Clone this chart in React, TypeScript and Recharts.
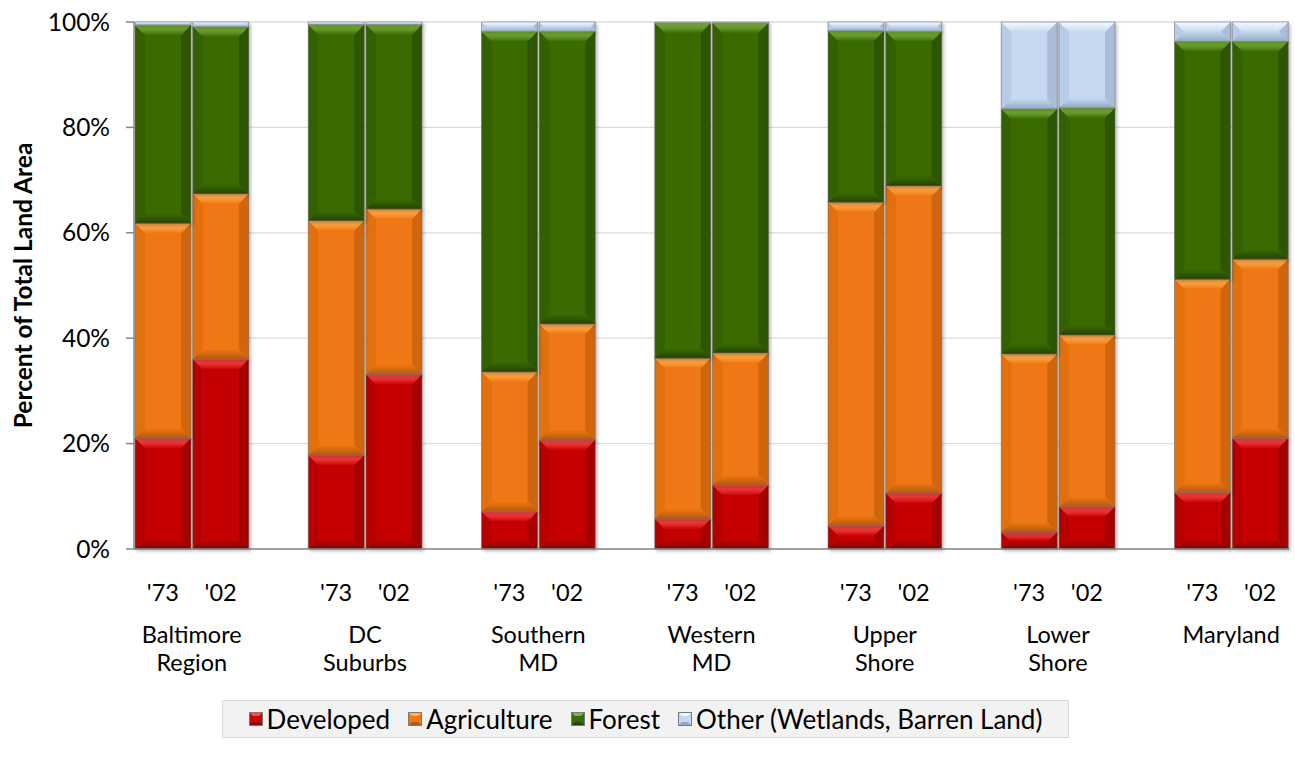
import React from "react";
import { BarChart, Bar, XAxis, YAxis, CartesianGrid } from "recharts";

const REGIONS = [
  "Baltimore Region",
  "DC Suburbs",
  "Southern MD",
  "Western MD",
  "Upper Shore",
  "Lower Shore",
  "Maryland",
];
const YEARS = ["'73", "'02"];

// share of land area (%), one value per bar: each region '73 then '02
const DEVELOPED = [21.0, 36.0, 17.8, 33.1, 7.1, 20.7, 5.7, 12.1, 4.4, 10.6, 3.2, 8.0, 10.7, 21.0];
const AGRICULTURE = [40.8, 31.4, 44.5, 31.4, 26.5, 22.0, 30.5, 25.1, 61.4, 58.3, 33.8, 32.6, 40.5, 34.0];
const FOREST = [37.6, 31.7, 37.2, 35.0, 64.6, 55.5, 63.6, 62.6, 32.5, 29.3, 46.5, 43.1, 45.1, 41.3];
const OTHER = [0.6, 0.9, 0.5, 0.5, 1.8, 1.8, 0.2, 0.2, 1.7, 1.8, 16.5, 16.3, 3.7, 3.7];

const Y_TICKS = [0, 20, 40, 60, 80, 100];

const FONT = "Lato, 'Noto Sans', sans-serif";
const W = 1295;
const H = 780;
const AXIS_W = 134;
const RIGHT = 6;

type Series = {
  key: string;
  name: string;
  values: number[];
  base: string;
  light: string;
  dark: string;
};

const SERIES: Series[] = [
  { key: "developed", name: "Developed", values: DEVELOPED, base: "#C60404", light: "#FF4B4B", dark: "#8A0000" },
  { key: "agriculture", name: "Agriculture", values: AGRICULTURE, base: "#F07712", light: "#FFB457", dark: "#B5580B" },
  { key: "forest", name: "Forest", values: FOREST, base: "#3A6B06", light: "#7FB83E", dark: "#254502" },
  { key: "other", name: "Other (Wetlands, Barren Land)", values: OTHER, base: "#C5D8F0", light: "#F0F6FD", dark: "#91A8C6" },
];

type Row = { id: string; year: string; region: string; first: boolean; [k: string]: any };

// two bars per region, with an empty slot between regions
const rows: Row[] = [];
REGIONS.forEach((region, r) => {
  if (r > 0) rows.push({ id: `gap${r}`, year: "", region: "", first: false });
  YEARS.forEach((year, y) => {
    const row: Row = { id: `${r}-${y}`, year, region, first: y === 0 };
    SERIES.forEach((s) => {
      row[s.key] = s.values[r * 2 + y];
    });
    rows.push(row);
  });
});

const SLOT = (W - AXIS_W - RIGHT) / rows.length;

function BevelBar(props: any) {
  const { x, y, width, height, s } = props;
  if (!height || height <= 0) return null;
  const b = Math.min(10, height / 2, width / 2);
  const x2 = x + width;
  const y2 = y + height;
  return (
    <g filter="url(#barShadow)">
      <rect x={x} y={y} width={width} height={height} fill={s.base} />
      <polygon
        points={`${x},${y} ${x + b},${y + b} ${x + b},${y2 - b} ${x},${y2}`}
        fill={s.dark}
        opacity={0.25}
      />
      <polygon
        points={`${x2},${y} ${x2 - b},${y + b} ${x2 - b},${y2 - b} ${x2},${y2}`}
        fill={s.dark}
        opacity={0.55}
      />
      <polygon
        points={`${x},${y} ${x2},${y} ${x2 - b},${y + b} ${x + b},${y + b}`}
        fill={`url(#top-${s.key})`}
      />
      <polygon
        points={`${x},${y2} ${x2},${y2} ${x2 - b},${y2 - b} ${x + b},${y2 - b}`}
        fill={`url(#bot-${s.key})`}
      />
      <rect
        x={x}
        y={y}
        width={width}
        height={height}
        fill="none"
        stroke="#6f6f6f"
        strokeOpacity={0.55}
        strokeWidth={1}
      />
    </g>
  );
}

function XTick(props: any) {
  const { x, y, index } = props;
  const row = rows[index];
  if (!row || !row.year) return null;
  const lines = row.region.split(" ");
  const cx = x + SLOT / 2;
  return (
    <g fontFamily={FONT} fontSize={23.5} fill="#000">
      <text x={x} y={y + 43} textAnchor="middle" dominantBaseline="central">
        {row.year}
      </text>
      {row.first &&
        lines.map((line: string, i: number) => (
          <text
            key={i}
            x={cx}
            y={y + 85 + i * 28}
            textAnchor="middle"
            dominantBaseline="central"
          >
            {line}
          </text>
        ))}
    </g>
  );
}

function YTitle(props: any) {
  const { viewBox } = props;
  const cx = 22;
  const cy = viewBox.y + viewBox.height / 2;
  return (
    <text
      x={cx}
      y={cy}
      transform={`rotate(-90 ${cx} ${cy})`}
      textAnchor="middle"
      dominantBaseline="central"
      fontFamily={FONT}
      fontSize={24.5}
      fontWeight={700}
      fill="#000"
    >
      Percent of Total Land Area
    </text>
  );
}

function LegendIcon({ s }: { s: Series }) {
  return (
    <svg width={14} height={14} style={{ display: "block" }}>
      <rect x={0.5} y={0.5} width={13} height={13} fill={s.base} stroke="#7a7a7a" strokeWidth={1} />
      <polygon points="1,1 13,1 10,4 4,4" fill={s.light} />
      <polygon points="1,13 13,13 10,10 4,10" fill={s.dark} />
    </svg>
  );
}

export default function App() {
  return (
    <div style={{ position: "absolute", left: 0, top: 0, width: W, height: H, background: "#fff" }}>
      <BarChart
        width={W}
        height={H}
        data={rows}
        margin={{ top: 22, right: RIGHT, left: 0, bottom: 0 }}
        barCategoryGap={1}
      >
        <defs>
          {SERIES.map((s) => (
            <linearGradient key={`t${s.key}`} id={`top-${s.key}`} x1="0" y1="0" x2="0" y2="1">
              <stop offset="0%" stopColor={s.light} />
              <stop offset="25%" stopColor={s.light} stopOpacity={0.85} />
              <stop offset="100%" stopColor={s.base} />
            </linearGradient>
          ))}
          {SERIES.map((s) => (
            <linearGradient key={`b${s.key}`} id={`bot-${s.key}`} x1="0" y1="0" x2="0" y2="1">
              <stop offset="0%" stopColor={s.base} />
              <stop offset="100%" stopColor={s.dark} />
            </linearGradient>
          ))}
          <filter id="barShadow" filterUnits="userSpaceOnUse" x={0} y={0} width={W} height={H}>
            <feDropShadow dx={2} dy={2} stdDeviation={1.5} floodColor="#000" floodOpacity={0.25} />
          </filter>
        </defs>
        <CartesianGrid vertical={false} stroke="#dcdcdc" strokeWidth={1.2} />
        <XAxis
          dataKey="id"
          height={H - 549}
          interval={0}
          tickLine={false}
          tickSize={0}
          tickMargin={0}
          axisLine={{ stroke: "#868686", strokeWidth: 1.5 }}
          tick={<XTick />}
        />
        <YAxis
          width={AXIS_W}
          domain={[0, 100]}
          ticks={Y_TICKS}
          tickFormatter={(v: number) => `${v}%`}
          tickSize={8}
          tickMargin={16}
          axisLine={{ stroke: "#868686", strokeWidth: 1.5 }}
          tickLine={{ stroke: "#868686", strokeWidth: 1.5 }}
          tick={{ fill: "#000", fontSize: 24.5, fontFamily: FONT }}
          label={<YTitle />}
        />
        {SERIES.map((s) => (
          <Bar
            key={s.key}
            dataKey={s.key}
            name={s.name}
            stackId="land"
            fill={s.base}
            isAnimationActive={false}
            shape={(p: any) => <BevelBar {...p} s={s} />}
          />
        ))}
      </BarChart>
      <div
        style={{
          position: "absolute",
          left: 222,
          top: 700,
          width: 847,
          height: 38,
          boxSizing: "border-box",
          background: "#f2f2f2",
          border: "1px solid #d9d9d9",
          display: "flex",
          alignItems: "center",
          justifyContent: "center",
          gap: 18,
          fontFamily: FONT,
          fontSize: 26,
          color: "#000",
        }}
      >
        {SERIES.map((s) => (
          <div key={s.key} style={{ display: "flex", alignItems: "center", gap: 4 }}>
            <LegendIcon s={s} />
            <span>{s.name}</span>
          </div>
        ))}
      </div>
    </div>
  );
}
